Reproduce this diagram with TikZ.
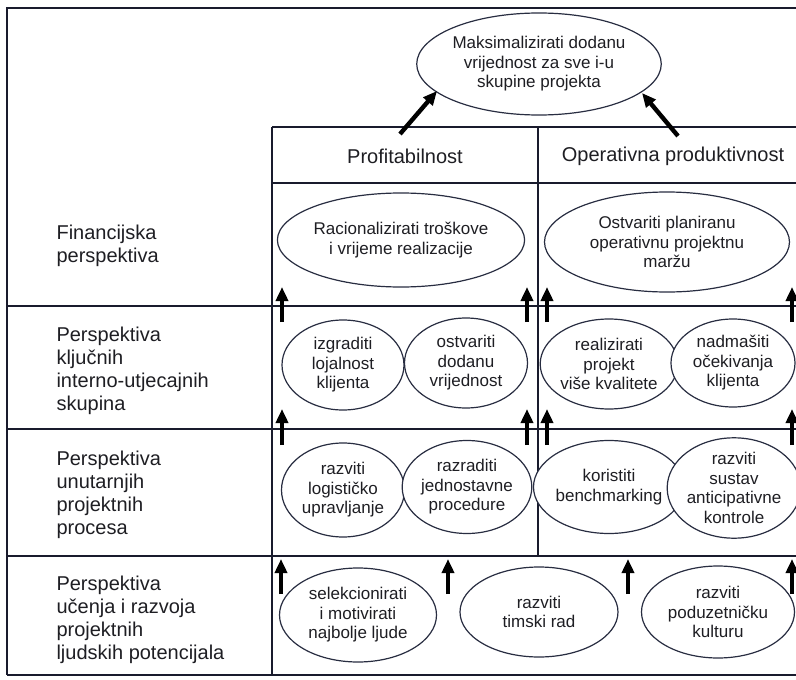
\documentclass[tikz,border=0pt]{standalone}
\usepackage{fontspec}
\setmainfont{Liberation Sans}
\usetikzlibrary{shapes.geometric,arrows.meta}
\definecolor{ink}{RGB}{25,27,45}
\definecolor{txt}{RGB}{30,30,35}
\definecolor{ellline}{RGB}{40,45,65}
\tikzset{
  ell/.style={ellipse, draw=ellline, line width=1.2pt, fill=white, inner sep=0pt,
    align=center, text=txt, font=\fontsize{17}{19.5}\selectfont},
  lbl/.style={anchor=west, align=left, text=txt, font=\fontsize{20}{23}\selectfont},
  hdr/.style={text=txt, font=\fontsize{20}{23}\selectfont},
  thick line/.style={draw=ink, line width=2.8pt},
  row line/.style={draw=ink, line width=1.6pt},
  vline/.style={draw=ink, line width=1.2pt},
  uparrow/.style={draw=black, line width=4.4pt, -{Triangle[length=14pt,width=12pt]}},
}
\begin{document}
\begin{tikzpicture}[x=1pt,y=-1pt]
\useasboundingbox (0,0) rectangle (796,680);
% frame
\coordinate (ftl) at (7,8);
\coordinate (ftr) at (796,8);
\coordinate (fbl) at (7,675);
\coordinate (fbr) at (796,675);
\draw[thick line] (ftr) -- (ftl) -- (fbl);
\draw[thick line] (fbl) -- (fbr);
% header
\coordinate (h1l) at (272,127); \coordinate (h1r) at (796,127);
\coordinate (h2l) at (272,183); \coordinate (h2r) at (796,183);
\draw[thick line] (h1l) -- (h1r);
\draw[thick line] (h2l) -- (h2r);
% rows
\coordinate (r1l) at (7,306); \coordinate (r1r) at (796,306);
\coordinate (r2l) at (7,429); \coordinate (r2r) at (796,429);
\coordinate (r3l) at (7,556); \coordinate (r3r) at (796,556);
\draw[row line] (r1l) -- (r1r);
\draw[row line] (r2l) -- (r2r);
\draw[row line] (r3l) -- (r3r);
% verticals
\coordinate (v1t) at (272,127); \coordinate (v1b) at (272,675);
\coordinate (v2t) at (538,127); \coordinate (v2b) at (538,556);
\draw[vline] (v1t) -- (v1b);
\draw[vline] (v2t) -- (v2b);
% header texts
\node[hdr] (profit) at (405,156) {Profitabilnost};
\node[hdr] (operat) at (673,156) {Operativna produktivnost};
% left labels
\node[lbl] (l1) at (53,246) {Financijska\\perspektiva};
\node[lbl] (l2) at (53,371) {Perspektiva\\ključnih\\interno-utjecajnih\\skupina};
\node[lbl] (l3) at (53,495) {Perspektiva\\unutarnjih\\projektnih\\procesa};
\node[lbl] (l4) at (53,620) {Perspektiva\\učenja i razvoja\\projektnih\\ljudskih potencijala};
% ellipses
\node[ell, minimum width=236pt, minimum height=102pt] (top) at (539,64) {Maksimalizirati dodanu\\vrijednost za sve i-u\\skupine projekta};
\node[ell, minimum width=233pt, minimum height=94pt] (rac) at (401,240) {Racionalizirati troškove\\i vrijeme realizacije};
\node[ell, minimum width=245pt, minimum height=100pt] (ost) at (667,242) {Ostvariti planiranu\\operativnu projektnu\\maržu};
\node[ell, minimum width=122pt, minimum height=90pt] (izg) at (343,365) {izgraditi\\lojalnost\\klijenta};
\node[ell, minimum width=123pt, minimum height=90pt] (dod) at (466,363) {ostvariti\\dodanu\\vrijednost};
\node[ell, minimum width=125pt, minimum height=90pt] (rea) at (609,364) {realizirati\\projekt\\više kvalitete};
\node[ell, minimum width=124pt, minimum height=88pt] (nad) at (733,363) {nadmašiti\\očekivanja\\klijenta};
\node[ell, minimum width=123pt, minimum height=94pt] (log) at (343,490) {razviti\\logističko\\upravljanje};
\node[ell, minimum width=123pt, minimum height=93pt] (raz) at (467,487) {razraditi\\jednostavne\\procedure};
\node[ell, minimum width=125pt, minimum height=93pt] (ben) at (609,487) {koristiti\\benchmarking};
\node[ell, minimum width=124pt, minimum height=92pt] (sus) at (734,488) {razviti\\sustav\\anticipativne\\kontrole};
\node[ell, minimum width=157pt, minimum height=94pt] (sel) at (358,615) {selekcionirati\\i motivirati\\najbolje ljude};
\node[ell, minimum width=158pt, minimum height=90pt] (tim) at (539,612) {razviti\\timski rad};
\node[ell, minimum width=153pt, minimum height=92pt] (pod) at (718,612) {razviti\\poduzetničku\\kulturu};
% arrows to top
\coordinate (ta1) at (400,134); \coordinate (th1) at (437,91);
\coordinate (ta2) at (678,136); \coordinate (th2) at (642,93);
\draw[uparrow] (ta1) -- (th1);
\draw[uparrow] (ta2) -- (th2);
% arrows row2 -> row1
\foreach \i/\x in {1/282,2/527,3/547,4/792}{
  \coordinate (a1t\i) at (\x,322); \coordinate (a1h\i) at (\x,287);
  \draw[uparrow] (a1t\i) -- (a1h\i);
}
% arrows row3 -> row2
\foreach \i/\x in {1/282,2/527,3/547,4/792}{
  \coordinate (a2t\i) at (\x,445); \coordinate (a2h\i) at (\x,409);
  \draw[uparrow] (a2t\i) -- (a2h\i);
}
% arrows row4 -> row3
\foreach \i/\x in {1/281,2/448,3/628,4/792}{
  \coordinate (a3t\i) at (\x,594); \coordinate (a3h\i) at (\x,559);
  \draw[uparrow] (a3t\i) -- (a3h\i);
}
\end{tikzpicture}
\end{document}
